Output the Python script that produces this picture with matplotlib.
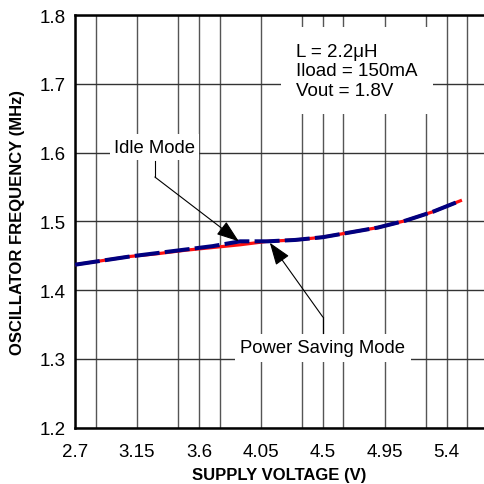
import matplotlib.pyplot as plt
import numpy as np

plt.rcParams['font.family'] = ['Liberation Sans', 'DejaVu Sans']

# supply voltage sweep (V) and oscillator frequency (MHz)
supply_v = [2.7, 2.9, 3.1, 3.3, 3.5, 3.7, 3.9, 4.1, 4.3, 4.5, 4.7, 4.9, 5.1, 5.3, 5.5]
freq_power_saving = [1.437, 1.443, 1.449, 1.453, 1.458, 1.462, 1.466, 1.471,
                     1.473, 1.477, 1.484, 1.491, 1.501, 1.514, 1.530]
freq_idle = [1.437, 1.443, 1.449, 1.454, 1.459, 1.464, 1.471, 1.471,
             1.473, 1.477, 1.484, 1.491, 1.501, 1.514, 1.530]

x_ticks = [2.7, 3.15, 3.6, 4.05, 4.5, 4.95, 5.4]
x_tick_labels = ['2.7', '3.15', '3.6', '4.05', '4.5', '4.95', '5.4']
y_ticks = [1.2, 1.3, 1.4, 1.5, 1.6, 1.7, 1.8]
y_tick_labels = ['1.2', '1.3', '1.4', '1.5', '1.6', '1.7', '1.8']

fig = plt.figure(figsize=(4.84, 4.85), dpi=100)
ax = fig.add_axes([0.155, 0.116, 0.845, 0.851])

ax.set_xlim(2.7, 5.671)
ax.set_ylim(1.2, 1.8)
ax.set_xticks(x_ticks)
ax.set_xticklabels(x_tick_labels)
ax.set_xticks(np.arange(2.85, 5.67, 0.3), minor=True)
ax.set_yticks(y_ticks)
ax.set_yticklabels(y_tick_labels)
ax.tick_params(which='both', length=0)
ax.tick_params(axis='x', labelsize=13.5, pad=11)
ax.tick_params(axis='y', labelsize=13.5, pad=7)

ax.grid(True, which='major', axis='y', color='#333333', lw=1.0, zorder=0)
ax.grid(True, which='both', axis='x', color='#555555', lw=1.0, zorder=0)
ax.set_axisbelow(True)

for side in ['left', 'bottom', 'top']:
    ax.spines[side].set_linewidth(1.8)
    ax.spines[side].set_color('black')
ax.spines['right'].set_visible(False)

ax.set_xlabel('SUPPLY VOLTAGE (V)', fontsize=12, fontweight='bold', labelpad=5)
ax.set_ylabel('OSCILLATOR FREQUENCY (MHz)', fontsize=12, fontweight='bold', labelpad=10)

# the two modes: red solid underneath, navy dashed on top
ax.plot(supply_v, freq_power_saving, color='#ff1010', lw=2.3, zorder=3)
ax.plot(supply_v, freq_idle, color='#000080', lw=2.9, dashes=(6.2, 1.3), zorder=4)

# condition box
ax.text(4.305, 1.76, 'L = 2.2\u03bcH\nIload = 150mA\nVout = 1.8V', fontsize=13.5,
        va='top', ha='left', linespacing=1.22, zorder=5,
        bbox=dict(facecolor='white', edgecolor='none', pad=11))

# Idle Mode callout
arrow = dict(arrowstyle='-|>,head_length=0.7,head_width=0.25', color='black',
             lw=0.8, shrinkA=0, shrinkB=0, mutation_scale=20)
ax.text(3.278, 1.608, 'Idle Mode', fontsize=13.3, ha='center', va='center', zorder=5,
        bbox=dict(facecolor='white', edgecolor='none', pad=3))
ax.plot([3.28, 3.28], [1.588, 1.5645], color='black', lw=0.8, zorder=5)
ax.annotate('', xy=(3.89, 1.471), xytext=(3.28, 1.5645), arrowprops=arrow, zorder=6)

# Power Saving Mode callout
ax.text(4.5, 1.316, 'Power Saving Mode', fontsize=13.3, ha='center', va='center', zorder=5,
        bbox=dict(facecolor='white', edgecolor='none', pad=4))
ax.plot([4.5, 4.5], [1.337, 1.361], color='black', lw=0.8, zorder=5)
ax.annotate('', xy=(4.115, 1.469), xytext=(4.5, 1.361), arrowprops=arrow, zorder=6)

fig.savefig('out.png', dpi=100)
